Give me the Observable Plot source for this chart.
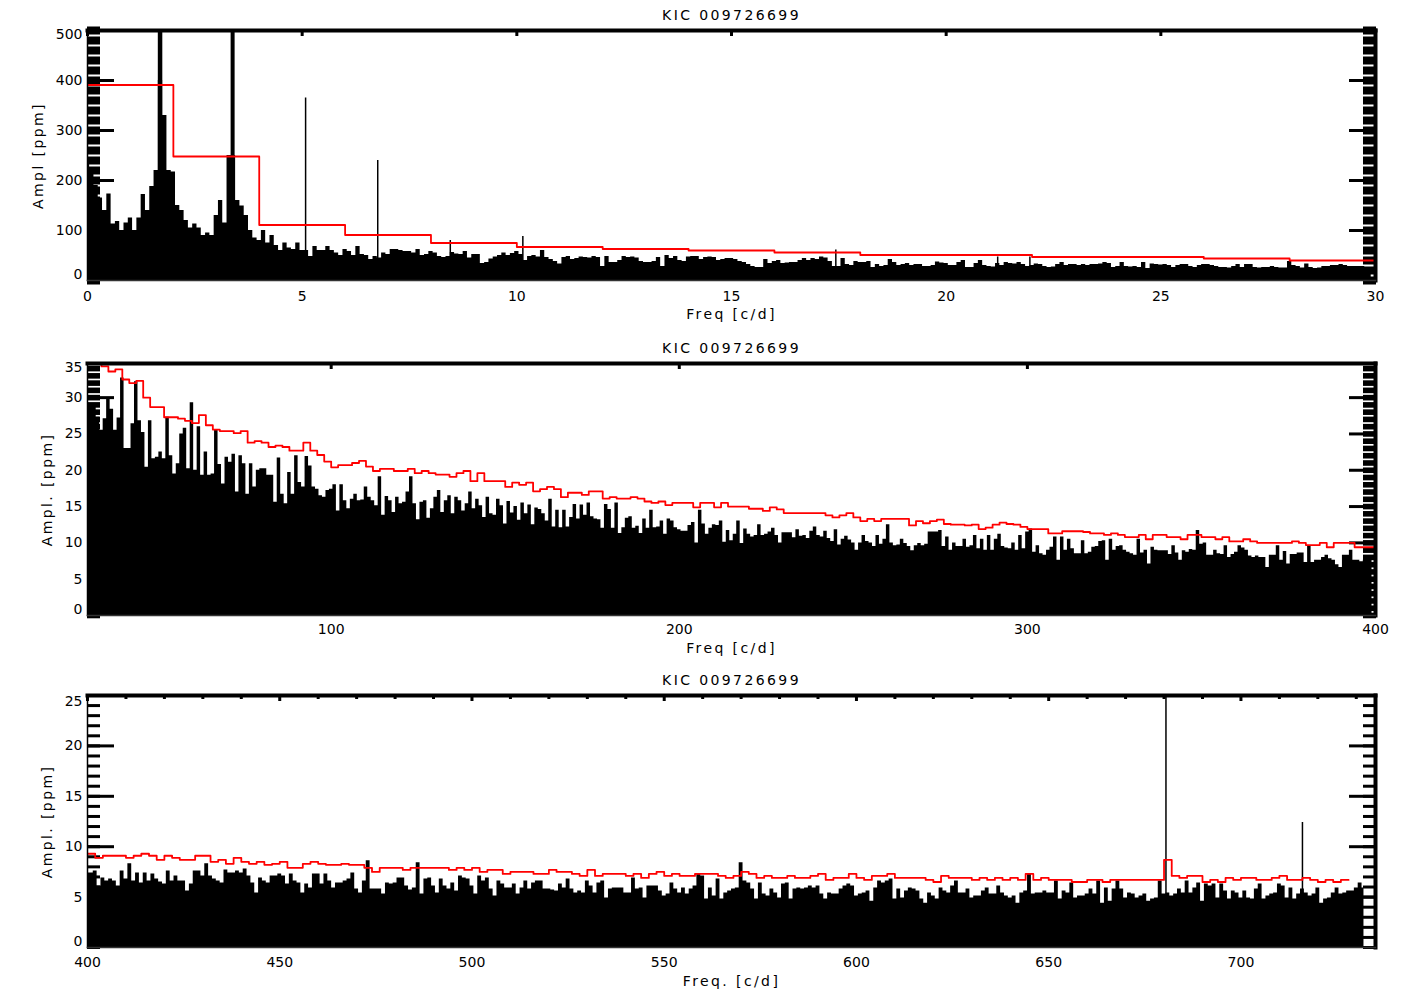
<!DOCTYPE html>
<html>
<head>
<meta charset="utf-8">
<script src="https://cdn.jsdelivr.net/npm/d3@7"></script>
<script src="https://cdn.jsdelivr.net/npm/@observablehq/plot@0.6"></script>
<style>
html,body{margin:0;padding:0;background:#fff;overflow:hidden}
svg{display:block}
.wide text{letter-spacing:2.4px}
</style>
</head>
<body>
<div id="chart"></div>
<script>
const titleText = "KIC 009726699";

const amp1 = [235,215,190,165,140,173,113,118,100,115,
125,100,125,172,140,188,220,400,330,220,
217,150,140,120,105,113,105,90,95,90,
130,160,115,250,250,160,149,130,100,85,
80,100,75,90,70,60,75,65,62,75,
60,60,48,68,60,60,68,60,55,50,
62,58,50,68,52,50,42,48,45,55,
52,62,62,60,58,58,55,62,50,52,
58,55,48,46,48,56,53,52,58,45,
52,52,34,36,43,47,50,55,50,54,
58,52,40,48,50,47,60,46,42,38,
33,46,48,42,44,47,46,45,48,46,
28,48,36,36,40,48,46,47,45,38,
36,36,38,46,28,50,44,48,40,38,
47,48,48,42,46,47,46,40,42,44,
44,42,38,36,32,28,26,26,42,34,
38,40,34,35,36,36,40,44,40,44,
42,47,45,38,28,28,44,32,30,38,
36,36,38,26,32,28,30,42,36,30,
32,34,30,32,32,28,28,30,37,35,
34,30,30,36,40,26,26,34,40,30,
28,27,34,30,36,34,33,36,32,28,
30,33,32,28,26,27,32,36,30,32,
32,30,32,30,32,32,33,36,34,26,
28,36,28,27,28,26,36,24,33,32,
31,32,30,26,30,32,32,28,26,30,
32,32,30,28,26,26,25,28,32,26,
32,32,26,25,26,26,28,26,25,25,
38,30,28,25,33,26,24,25,28,28,
30,30,32,30,28,28,28,28,26,26];
const peakF1 = [1.69,3.38,5.08,6.76,8.45,10.14,10.57,17.43,21.2,21.95];
const peakA1 = [520,520,365,240,80,88,60,61,47,47];
const peakW1 = [4.5,4,1.5,1.5,1.5,1.5,1.5,1.5,1.5,1.5];
const red1 = [391,248,111,91,75,67,63,60,56,51,51,47,47,44,40,43];

const amp2 = [29.1,29.1,28.9,27.3,25.5,27.1,30,28.4,25.5,27.2,
32.7,23,23,26.4,32.2,26.8,25.2,20.4,26.8,21.6,
21.8,22.5,21.6,27.3,22,19.5,20.9,25,25.8,20.2,
29.3,20,26,19.3,22.5,19.3,19.5,25.5,20.8,18.1,
21.8,21.1,22.2,17,22,20.9,16.7,20.9,17.7,20,
20.2,20.2,19.3,19.3,15.6,21.7,16.7,15.4,19.7,16.7,
22,18.3,17.7,21.9,20.6,17.7,17.4,16.5,16.3,17.2,
17.4,18,14.4,18,15.8,14.7,16,16.7,15.8,15.9,
17.7,16.3,15.8,15.1,19.1,13.8,16.4,15.8,14.2,16.3,
15.4,15.6,17,19.1,15.4,13.2,15.6,15.8,13.4,14.7,
16.3,17.2,14.2,15.8,16.5,14,16.3,15.8,14.4,15.4,
17,14.7,16,15.1,13.5,16.3,14,13.8,16,15.1,
12.6,15.7,14.1,15,13.1,15.5,14,15.2,12.5,14.8,
14.6,14,13,16,12.2,14.5,12.1,14.5,12.2,13.5,
15.3,13.3,15.2,13.8,15.5,13.6,13.3,13.2,12,15.3,
14.6,12,15.5,11.3,12.1,13.4,13.6,12,12.3,11.3,
13.3,12,14.5,12.1,12.2,13,11.2,13.3,13,12.1,
11.8,11.6,11.6,12.4,12.8,10,14.5,12.6,11.2,12,
12.5,12.4,13,10.1,11.7,10.3,11.2,13,9.9,11.9,
11.2,10.8,11,12.5,11,11.2,11.5,12,11,10,
11.4,11.4,11.4,10.7,11.8,10.9,11,10.6,11.6,12.2,
11,10.8,11.6,10.6,10.2,11.8,9.7,10.5,10.9,10.4,
10,9,10,11,10.2,10,9.5,11,9.8,10.5,
12.5,10,9.6,9.7,10.5,9.9,9.5,8.9,9.6,9.9,
9.6,9.8,11.5,11.5,11.5,11.7,9.5,10.8,9,10,
9.5,9.5,10.5,9.4,9.6,11,9.2,10.5,9,11,
9,10.5,11.2,9.5,9.3,9.2,10,9,11,9.2,
11.5,11.9,8.7,9.6,8.5,8.3,9,9.4,10.8,7.6,
10.8,9,10.5,9.2,8.5,8.5,10.3,8.5,8.7,9.4,
9.5,10.2,10.3,7.6,10.5,9,9.5,9.6,9,8.7,
8.5,8.3,10.5,8.6,9,7.1,9.4,9,8.9,8.9,
8.9,8.4,9.6,8.6,7.6,8.9,8.7,9.1,9,11.7,
9.8,10,8.3,8.3,9,8.5,8.4,9.6,8,8.4,
8.7,9.6,9.3,9,8.2,8,8.2,8,8,6.6,
8.3,8.3,9.6,7.6,8.8,7.1,8.4,8.4,8.6,8.6,
7.3,9.6,7.3,7.6,7.6,8,8.3,7.8,7.6,7,
6.6,8.3,8.3,9,7.6,7.6,7.4,7.6,7.6,7.6];
const red2 = [36,36,34.3,33.6,33.9,32.5,32,32.3,30,28.7,
28.7,27.3,27.3,27.1,26.8,26.5,27.6,26.2,25.6,25.4,
25.4,25.1,25.4,23.8,24,23.8,23.2,23.4,23.2,22.7,
22.7,23.8,22.7,22.1,21.2,20.4,20.7,20.7,21,21.3,
20.5,19.9,20.2,20.2,19.9,19.9,20.2,19.6,19.9,19.6,
19.4,19.4,19.1,19.6,19.9,18.5,19.6,18.5,18.5,18.5,
17.7,18.3,18,18.3,17.1,17.4,17.7,17.4,16.3,16.9,
16.9,16.6,17.1,17.1,16.1,16.3,16.1,16.1,16.3,16.1,
15.7,15.5,15.7,15.2,15.5,15.5,15.5,14.9,15.5,15.5,
14.9,15.5,15,15,15,14.7,14.7,14.4,14.9,14.6,
14.1,14.1,14.1,14.1,14.1,14.1,13.8,13.5,13.8,14.1,
13.5,13,13.3,13,13.3,13.3,13.3,13.3,12.4,13,
12.7,13,13.2,12.6,12.5,12.5,12.4,12.5,11.9,12.1,
12.5,12.8,12.6,12.5,12.2,11.9,11.9,11.9,11.3,11.3,
11.6,11.6,11.6,11.5,11.3,11.3,11.1,11.3,11.1,10.8,
10.8,11.1,10.5,11.1,11.1,10.8,10.8,10.5,11.1,11.1,
10.8,10.8,10.5,10.8,10.2,10.2,10.5,10.2,10,10,
10,10,10,10.2,10,9.7,9.7,10,9.4,10,
10,10,9.4,9.4,9.4];

const amp3 = [7.4,7.4,7.6,6.1,6.9,6.6,6.8,6.6,6.1,7.6,
6.8,8.3,6.6,7.4,6.4,7.4,6.6,7.3,6.8,6.5,
6.3,7.6,6.6,7.1,6.6,6.6,5.6,6.3,7.6,7.6,
7.1,8.3,7.1,6.8,6.6,6.4,7.7,7.4,7.4,7.6,
7.4,7.8,7.1,6.4,5.4,6.9,6.6,6.4,7.1,7.1,
7.3,7.1,6.3,7.3,6.6,6.4,5.4,6.3,5.9,7.3,
7.3,6.3,7.3,6.6,5.9,6.4,6.4,6.6,6.8,7.4,
5.8,5.4,6.6,8.6,5.8,5.8,5.8,5.3,6.4,6.3,
6.4,6.9,6.9,6.1,5.7,5.9,8.4,5.3,6.8,6.9,
6.1,5.4,6.8,6.1,5.8,6.4,5.6,7.1,6.9,6.8,
6.1,5.3,7.1,6.6,6.9,5.8,5.1,6.6,6.3,5.9,
5.9,6.3,5.3,5.9,6.6,5.8,6.4,6.6,6.6,5.8,
5.8,5.7,5.6,6.3,5.9,6.8,5.8,5.4,5.6,5.4,
6.6,6.1,5.4,6.4,6.6,4.9,5.8,5.9,5.9,5.9,
5.4,5.4,6.9,5.8,5.9,4.9,6.1,6.1,6.1,5.6,
5.1,5.3,6.4,5.8,5.4,5.9,5.3,5.8,6.1,7.3,
7.1,4.8,5.9,5.1,6.8,4.8,5.4,5.6,5.8,5.9,
8.4,6.6,6.4,5.8,4.8,6.4,5.3,5.1,5.8,5.4,
4.9,6.3,6.4,4.8,5.8,5.9,5.8,5.9,6.1,5.9,
6.1,5.3,4.8,5.4,5.3,5.3,5.8,6.1,6.3,6.1,
5.1,5.3,5.4,5.6,4.6,5.9,6.6,6.4,6.6,6.8,
4.8,5.8,4.9,5.6,5.9,5.8,5.6,4.8,4.4,5.4,
5.1,4.8,5.9,5.6,5.4,6.1,6.6,5.4,5.4,5.8,
4.9,5.1,5.1,5.6,5.9,5.3,5.3,6.1,5.4,5.1,
4.9,5.1,4.4,5.4,5.6,7.3,5.3,5.4,5.4,5.6,
5.4,5.4,6.6,4.8,5.6,5.4,6.4,4.9,5.1,5.1,
5.3,5.8,5.3,6.6,4.4,5.9,4.6,5.8,6.6,5.8,
4.9,5.4,5.3,4.9,5.1,5.3,4.6,4.8,4.9,6.6,
5.3,5.4,5.1,5.3,5.8,5.4,6.6,5.4,5.9,6.4,
4.6,6.3,6.1,6.3,4.9,6.3,5.6,4.8,5.6,5.4,
4.9,5.6,4.9,4.8,5.8,6.3,4.8,5.1,5.3,5.4,
6.3,6.1,4.9,5.9,4.8,5.3,5.8,5.4,5.1,5.3,
5.9,4.4,4.8,4.9,5.4,5.9,5.3,5.4,5.6,5.6,
5.9,6.4,5.9];
const peakF3 = [680.5,716];
const peakA3 = [26,12.4];
const red3 = [9.3,8.9,9.1,9.1,9.1,8.9,9.1,9.3,9.1,8.7,
9.1,8.9,8.7,8.7,9.1,9.1,8.5,8.7,8.3,8.9,
8.5,8.3,8.5,8.2,8.3,8.5,7.9,7.9,8.3,8.5,
8.3,8.2,8.2,8.3,8.2,8.2,7.9,7.5,7.9,7.9,
7.9,7.7,7.9,7.9,7.9,7.9,7.9,7.7,7.9,7.7,
7.9,7.5,7.7,7.7,7.3,7.5,7.5,7.5,7.3,7.3,
7.7,7.5,7.5,7.3,7.1,7.7,7.1,7.3,7.3,7.3,
7.1,7.3,6.9,7.3,7.5,7.1,7.3,7.1,7.1,7.3,
7.3,7.3,7.1,6.9,7.1,7.5,7.3,6.9,7.1,6.9,
6.9,7.1,6.9,6.9,7.1,7.3,6.7,6.9,6.9,7.3,
6.9,6.7,7.1,7.1,7.3,6.9,6.9,6.9,6.9,6.7,
6.5,7.1,6.9,6.9,6.9,6.7,6.9,6.7,6.9,6.7,
6.9,6.7,7.3,6.7,6.9,6.7,6.7,6.7,6.5,6.5,
6.7,6.7,6.5,6.7,6.7,6.7,6.7,6.7,6.7,6.7,
8.7,7.1,6.9,7.1,7.1,6.5,6.7,6.5,6.9,6.7,
6.9,6.9,6.7,6.7,6.9,7.1,6.7,6.7,6.9,6.7,
6.5,6.7,6.5,6.7];

const ticksX1 = [0,5,10,15,20,25,30];
const ticksX2 = [100,200,300,400];
const ticksX3 = [400,450,500,550,600,650,700];
const minorTop3 = [410,420,430,440,460,470,480,490,510,520,530,540,560,570,580,590,610,620,630,640,660,670,680,690,710,720,730];

function panel(cfg) {
  const spectrum = cfg.amp.map((a, i) => ({f: cfg.start + i * cfg.step, a}));
  const redPts = cfg.red.map((r, i) => ({f: cfg.start + i * 2, r}));
  redPts.push({f: cfg.start + cfg.red.length * 2, r: cfg.red[cfg.red.length - 1]});
  const blank = () => "";
  const tickStyle = (ticks, anchor, size, w) =>
    Plot.axisY({anchor, ticks, tickSize: -size, strokeWidth: w, tickFormat: blank, label: null});
  const marks = [
    Plot.areaY(spectrum, {x: "f", y: "a", y1: 0, curve: "step", fill: "#000", clip: true}),
    Plot.ruleX(cfg.peakF, {x: d => d, y1: 0, y2: (d, i) => cfg.peakA[i], strokeWidth: (d, i) => cfg.peakW ? cfg.peakW[i] : 1.5, stroke: "#000", clip: true}),
    tickStyle(cfg.minorY, "left", 13, cfg.minorW),
    tickStyle(cfg.minorY, "right", 13, cfg.minorW),
    tickStyle(cfg.majorY, "left", 27, 3),
    tickStyle(cfg.majorY, "right", 27, 3),
    Plot.lineY(redPts, {x: "f", y: "r", curve: "step-after", stroke: "#ff0000", strokeWidth: 1.8, clip: true}),
    Plot.frame({anchor: "top", strokeWidth: 4, stroke: "#000"}),
    Plot.frame({anchor: "right", strokeWidth: 4, stroke: "#000"}),
    Plot.frame({anchor: "left", strokeWidth: 1.5, stroke: "#000"}),
    Plot.frame({anchor: "bottom", strokeWidth: 1.5, stroke: "#333"}),
    Plot.axisX({anchor: "top", ticks: cfg.ticksX, tickSize: -5, strokeWidth: 3, tickFormat: blank, label: null}),
    Plot.axisX({anchor: "bottom", ticks: cfg.ticksX, tickSize: 0, tickPadding: cfg.padX, label: null, tickFormat: d3.format("d")}),
    Plot.axisY({anchor: "left", ticks: cfg.midY, tickSize: 0, tickPadding: 5, label: null, tickFormat: d3.format("d")}),
    Plot.axisY({anchor: "left", ticks: [cfg.topY], tickSize: 0, tickPadding: 5, dy: cfg.topDy, label: null, tickFormat: () => cfg.topLabel}),
    Plot.axisY({anchor: "left", ticks: [0], tickSize: 0, tickPadding: 5, dy: -6, label: null, tickFormat: d3.format("d")}),
    Plot.text([titleText], {frameAnchor: "top", dy: -20, fontSize: 14, fill: "#000", className: "wide"}),
    Plot.text([cfg.xLabel], {frameAnchor: "bottom", dy: cfg.xDy, fontSize: 14, fill: "#000", className: "wide"}),
    Plot.text([cfg.yLabel], {frameAnchor: "left", textAnchor: "middle", dx: cfg.yDx, rotate: -90, fontSize: 14, fill: "#000", className: "wide"})
  ];
  if (cfg.minorTop) marks.push(Plot.axisX({anchor: "top", ticks: cfg.minorTop, tickSize: -3, strokeWidth: 3, tickFormat: blank, label: null}));
  return Plot.plot({
    width: 1402, height: cfg.height,
    marginLeft: 87, marginRight: 27, marginTop: 30, marginBottom: cfg.marginBottom,
    style: {fontFamily: "'DejaVu Sans', sans-serif", fontSize: "14px", color: "#000", background: "#fff", overflow: "visible"},
    x: {domain: cfg.xDomain, label: null},
    y: {domain: cfg.yDomain, label: null},
    marks
  });
}

const host = document.getElementById("chart");
host.appendChild(panel({
  amp: amp1, start: 0, step: 0.1, red: red1.slice(0, 15), peakF: peakF1, peakA: peakA1, peakW: peakW1,
  xDomain: [0, 30], yDomain: [0, 500], ticksX: ticksX1, padX: 11, xDy: 38,
  minorY: d3.range(0, 501, 20), minorW: 8, majorY: [100, 200, 300, 400], midY: [100, 200, 300, 400], topY: 500, topLabel: "500", topDy: 4,
  xLabel: "Freq [c/d]", yLabel: "Ampl [ppm]", yDx: -49, height: 333, marginBottom: 53
}));
host.appendChild(panel({
  amp: amp2, start: 30, step: 1, red: red2, peakF: [], peakA: [],
  xDomain: [30, 400], yDomain: [0, 34.7], ticksX: ticksX2, padX: 9, xDy: 37,
  minorY: d3.range(0, 35, 1), minorW: 5.6, majorY: [5, 10, 15, 20, 25, 30], midY: [5, 10, 15, 20, 25, 30], topY: 34.7, topLabel: "35", topDy: 4,
  xLabel: "Freq [c/d]", yLabel: "Ampl. [ppm]", yDx: -40, height: 332, marginBottom: 50
}));
host.appendChild(panel({
  amp: amp3, start: 400, step: 1, red: red3, peakF: peakF3, peakA: peakA3,
  xDomain: [400, 735], yDomain: [0, 25], ticksX: ticksX3, padX: 10, xDy: 38, minorTop: minorTop3,
  minorY: d3.range(0, 26, 1), minorW: 3, majorY: [5, 10, 15, 20, 25], midY: [5, 10, 15, 20], topY: 25, topLabel: "25", topDy: 6,
  xLabel: "Freq. [c/d]", yLabel: "Ampl. [ppm]", yDx: -40, height: 337, marginBottom: 55
}));
</script>
</body>
</html>
